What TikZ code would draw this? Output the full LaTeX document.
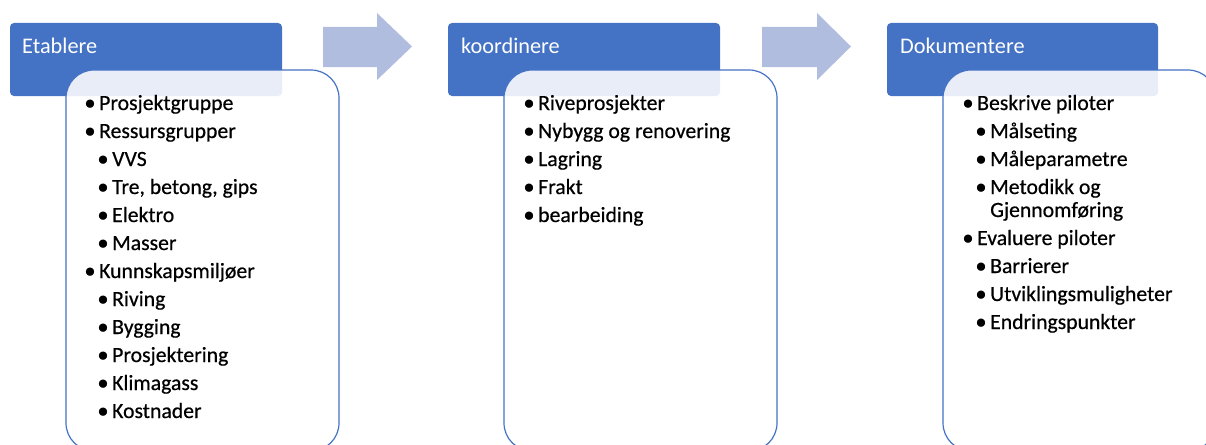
\documentclass[tikz,border=0pt]{standalone}
\usepackage{fontspec}
\setmainfont{Carlito}
\newfontfamily\itmfont{Carlito}[FakeBold=0.5]
\definecolor{hdr}{RGB}{68,114,196}
\definecolor{arr}{RGB}{176,189,223}
\newcommand\bitem[5]{\node[bul] (#1b) at (#2,#4) {•}; \node[itm] (#1) at (#3,#4) {#5};}
\begin{document}
\begin{tikzpicture}[x=1pt,y=-1pt,
 header/.style={fill=hdr, rounded corners=4pt},
 content/.style={draw=hdr, line width=1.2pt, fill=white, fill opacity=0.88, rounded corners=28pt},
 htext/.style={anchor=base west, inner sep=0pt, text=white, font=\fontsize{22.3}{26}\selectfont},
 bul/.style={anchor=base, inner sep=0pt, font=\itmfont\fontsize{22.5}{26}\selectfont},
 itm/.style={anchor=base west, inner sep=0pt, font=\itmfont\fontsize{21.7}{26}\selectfont},
 flow/.style={fill=arr}]
\useasboundingbox (0,0) rectangle (1206,444);
\clip (0,0) rectangle (1206,444);
% arrows
\fill[flow] (323,27) -- (377,27) -- (377,13) -- (412,46.5) -- (377,80) -- (377,67) -- (323,67) -- cycle;
\fill[flow] (762,27) -- (817,27) -- (817,13) -- (851,46.5) -- (817,80) -- (817,67) -- (762,67) -- cycle;
% group 1
\fill[header] (10,23) rectangle (282,96);
\node[htext] (h1) at (22,53) {Etablere};
\path[content] (66,70) rectangle (339,451);
\bitem{a1}{90}{99}{110}{Prosjektgruppe}
\bitem{a2}{90}{99}{138}{Ressursgrupper}
\bitem{a3}{103}{112}{166}{VVS}
\bitem{a4}{103}{112}{194}{Tre, betong, gips}
\bitem{a5}{103}{112}{222}{Elektro}
\bitem{a6}{103}{112}{250}{Masser}
\bitem{a7}{90}{99}{278}{Kunnskapsmiljøer}
\bitem{a8}{103}{112}{306}{Riving}
\bitem{a9}{103}{112}{334}{Bygging}
\bitem{a10}{103}{112}{362}{Prosjektering}
\bitem{a11}{103}{112}{390}{Klimagass}
\bitem{a12}{103}{112}{418}{Kostnader}
% group 2
\fill[header] (448,23) rectangle (720,96);
\node[htext] (h2) at (461,53) {koordinere};
\path[content] (504,70) rectangle (777,451);
\bitem{b1}{529}{538}{110}{Riveprosjekter}
\bitem{b2}{529}{538}{138}{Nybygg og renovering}
\bitem{b3}{529}{538}{166}{Lagring}
\bitem{b4}{529}{538}{194}{Frakt}
\bitem{b5}{529}{538}{222}{bearbeiding}
% group 3
\fill[header] (887,23) rectangle (1158,96);
\node[htext] (h3) at (900,53) {Dokumentere};
\path[content] (943,70) rectangle (1216,451);
\bitem{c1}{968}{977}{110}{Beskrive piloter}
\bitem{c2}{981}{990}{138}{Målseting}
\bitem{c3}{981}{990}{166}{Måleparametre}
\bitem{c4}{981}{990}{194}{Metodikk og}
\node[itm] (c4b2) at (990,217) {Gjennomføring};
\bitem{c5}{968}{977}{245}{Evaluere piloter}
\bitem{c6}{981}{990}{273}{Barrierer}
\bitem{c7}{981}{990}{301}{Utviklingsmuligheter}
\bitem{c8}{981}{990}{329}{Endringspunkter}
\end{tikzpicture}
\end{document}
